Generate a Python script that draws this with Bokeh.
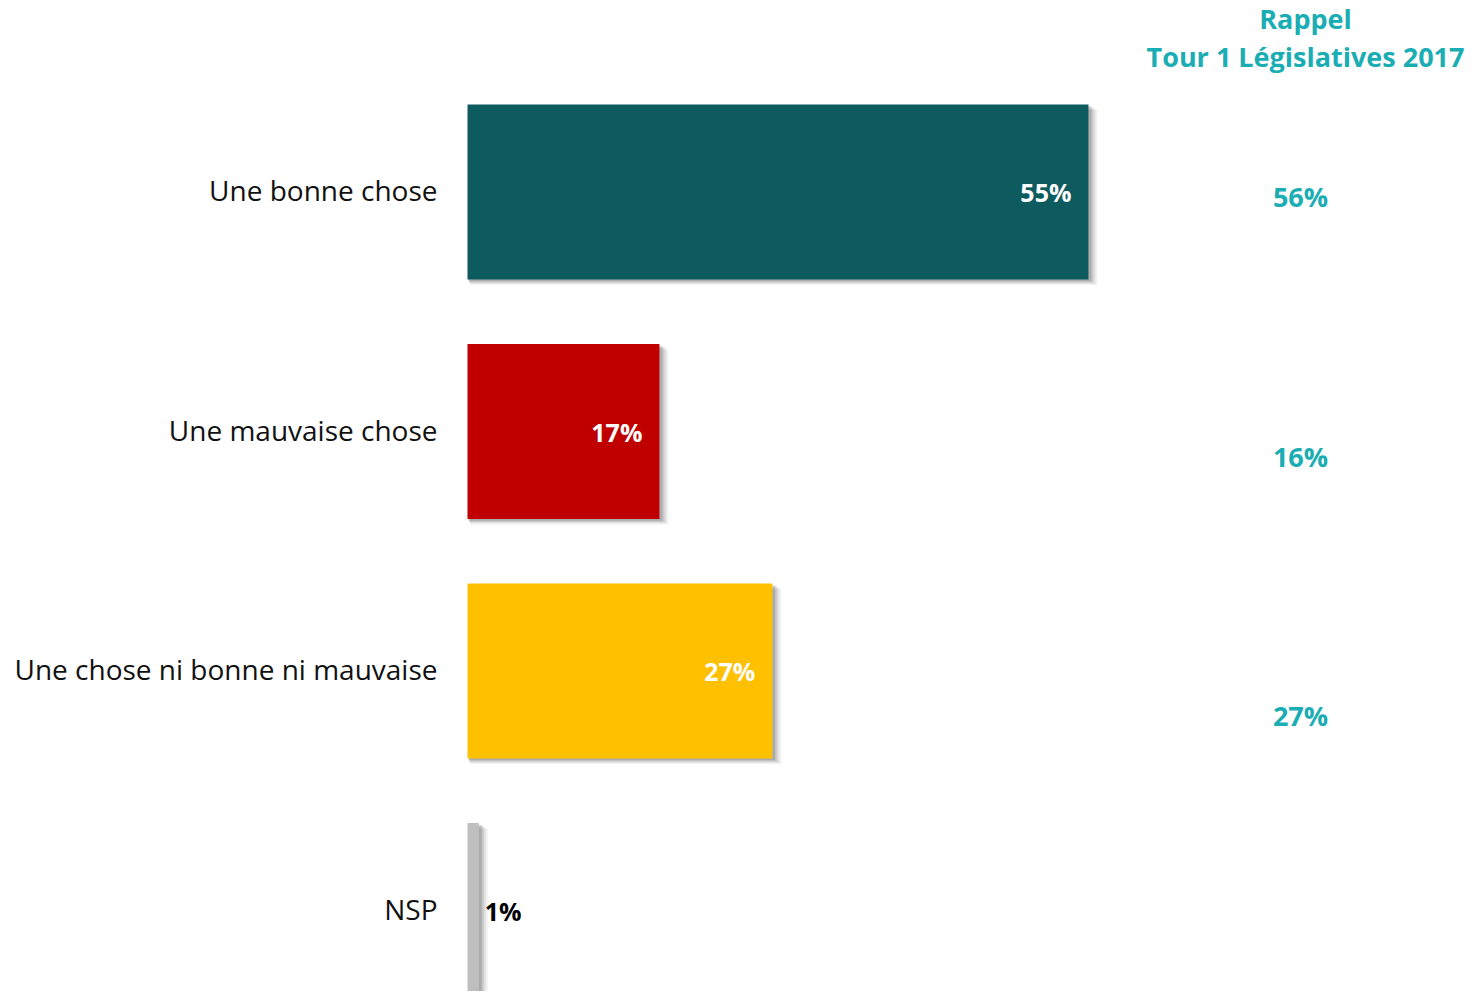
from bokeh.plotting import figure
from bokeh.models import Range1d, ColumnDataSource
from bokeh.core.properties import value
from bokeh.embed import file_html
from bokeh.resources import INLINE

categories = ["Une bonne chose", "Une mauvaise chose", "Une chose ni bonne ni mauvaise", "NSP"]
values = [55, 17, 27, 1]
colors = ["#0E5B5F", "#C00000", "#FFC000", "#BFBFBF"]
recall_values = [56, 16, 27]
recall_title = ["Rappel", "Tour 1 Législatives 2017"]

FONT = "Open Sans"
W, H = 1468, 991
PX_PER_PCT = 11.29
ROW_PX = 239.5
x0 = -467 / PX_PER_PCT
x1 = x0 + W / PX_PER_PCT
y_top = -191.5 / ROW_PX
y_bot = y_top + H / ROW_PX

p = figure(width=W, height=H, output_backend="svg", toolbar_location=None,
           x_range=Range1d(x0, x1), y_range=Range1d(y_bot, y_top),
           min_border=0, outline_line_color=None)
p.axis.visible = False
p.grid.visible = False
p.background_fill_color = "white"
p.border_fill_color = "white"

idx = list(range(len(categories)))
bar_h = 175 / ROW_PX

# soft drop shadows
for k, a in [(9, 0.05), (7, 0.07), (5, 0.10), (3, 0.14)]:
    dx = k / PX_PER_PCT
    dy = k / ROW_PX
    p.hbar(y=[i + dy * 0.6 for i in idx], left=[dx * 0.3] * len(idx),
           right=[v + dx for v in values], height=bar_h,
           fill_color="#000000", fill_alpha=a, line_color=None)

src = ColumnDataSource(dict(y=idx, right=values, color=colors, cat=categories,
                            lab=[f"{v}%" for v in values]))
p.hbar(y="y", left=0, right="right", height=bar_h, fill_color="color",
       line_color=None, source=src)

up = 2 / ROW_PX

# category labels
p.text(x=[-30 / PX_PER_PCT] * len(idx), y=[i - up for i in idx], text=categories,
       text_align="right", text_baseline="middle", text_font=value(FONT),
       text_font_size="28px", text_color="#111111")

# value labels inside bars (white), outside for tiny bar
inside = [i for i, v in enumerate(values) if v >= 5]
outside = [i for i, v in enumerate(values) if v < 5]
p.text(x=[values[i] - 17 / PX_PER_PCT for i in inside], y=[i for i in inside],
       text=[f"{values[i]}%" for i in inside], text_align="right",
       text_baseline="middle", text_font=value(FONT), text_font_style="bold",
       text_font_size="25px", text_color="white")
p.text(x=[values[i] + 6 / PX_PER_PCT for i in outside], y=[i for i in outside],
       text=[f"{values[i]}%" for i in outside], text_align="left",
       text_baseline="middle", text_font=value(FONT), text_font_style="bold",
       text_font_size="25px", text_color="black")

# recall column
rx = (1300 - 467) / PX_PER_PCT
ry = [4.5 / ROW_PX + i * 259.5 / ROW_PX for i in range(len(recall_values))]
p.text(x=[rx] * len(recall_values), y=ry, text=[f"{v}%" for v in recall_values],
       text_align="center", text_baseline="middle", text_font=value(FONT),
       text_font_style="bold", text_font_size="27px", text_color="#1AADB3")

tx = (1305 - 467) / PX_PER_PCT
ty = [(18 - 191.5) / ROW_PX, (56 - 191.5) / ROW_PX]
p.text(x=[tx, tx], y=ty, text=recall_title, text_align="center",
       text_baseline="middle", text_font=value(FONT), text_font_style="bold",
       text_font_size="27px", text_color="#1AADB3")

open("out.html", "w").write(file_html(p, INLINE))
